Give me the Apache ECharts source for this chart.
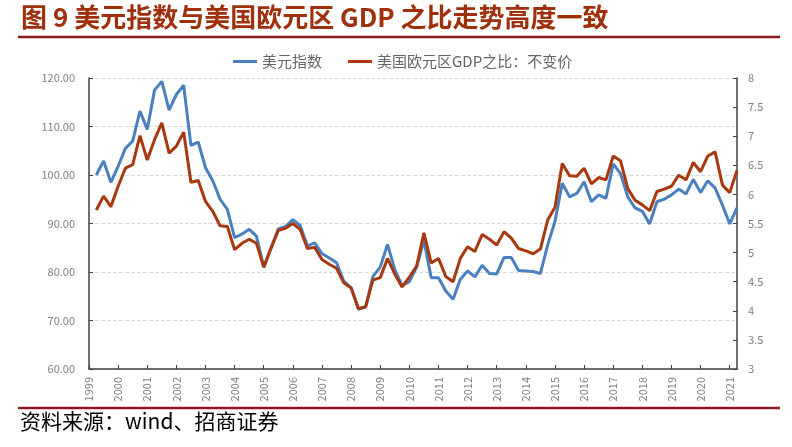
<!DOCTYPE html>
<html><head><meta charset="utf-8">
<script src="https://cdn.jsdelivr.net/npm/echarts@6/dist/echarts.min.js"></script>
<style>html,body{margin:0;padding:0;background:#fff}#c{width:792px;height:447px}</style>
</head><body><div id="c"></div>
<script>
const yearLabels = ['1999','2000','2001','2002','2003','2004','2005','2006','2007','2008','2009','2010','2011','2012','2013','2014','2015','2016','2017','2018','2019','2020','2021'];
// quarterly categories 1999Q1 .. 2021Q1
const quarters = [];
yearLabels.forEach(y => { for (let q = 1; q <= 4; q++) { if (y === '2021' && q > 1) break; quarters.push(y + 'Q' + q); } });

const usdIndex = [
  100.0,102.9,98.5,101.8, 105.5,107.0,113.2,109.4, 117.5,119.3,113.4,116.6, 118.5,106.1,106.8,101.5,
  98.8,95.0,92.9,87.1, 87.8,88.8,87.4,81.0, 85.0,88.9,89.4,90.8, 89.6,85.4,86.0,83.8,
  82.9,81.9,78.1,76.8, 72.3,72.8,79.1,81.0, 85.7,80.5,77.2,78.0, 81.0,86.5,78.8,78.8,
  76.1,74.4,78.5,80.2, 79.0,81.4,79.7,79.6, 83.0,83.0,80.3,80.2, 80.1,79.7,85.6,90.4,
  98.3,95.5,96.2,98.6, 94.5,95.9,95.2,102.3, 100.3,95.5,93.2,92.5, 89.9,94.5,95.0,95.9,
  97.1,96.1,99.1,96.4, 98.8,97.3,93.8,89.9, 93.2
];
const gdpRatio = [
  5.73,5.97,5.79,6.14, 6.45,6.51,7.01,6.59, 6.94,7.23,6.71,6.83, 7.07,6.21,6.24,5.88,
  5.71,5.46,5.45,5.05, 5.16,5.23,5.16,4.75, 5.07,5.38,5.42,5.50, 5.40,5.07,5.09,4.88,
  4.80,4.73,4.48,4.39, 4.04,4.07,4.53,4.57, 4.90,4.63,4.41,4.58, 4.77,5.34,4.82,4.90,
  4.59,4.50,4.90,5.10, 5.02,5.31,5.23,5.13, 5.36,5.25,5.07,5.03, 4.98,5.06,5.56,5.78,
  6.53,6.32,6.31,6.45, 6.18,6.29,6.25,6.66, 6.58,6.10,5.90,5.82, 5.72,6.05,6.09,6.14,
  6.33,6.25,6.55,6.39, 6.66,6.73,6.16,6.03, 6.41
];
const seriesNames = ['美元指数', '美国欧元区GDP之比：不变价'];
const titleText = '图 9 美元指数与美国欧元区 GDP 之比走势高度一致';
const sourceText = '资料来源：wind、招商证券';

function qx(label) { const y = parseInt(label.slice(0, 4)); const q = parseInt(label.slice(5)); return y + q / 4; }

const FONT = '"Noto Sans CJK SC", "Noto Sans", sans-serif';
const chart = echarts.init(document.getElementById('c'), null, { renderer: 'canvas' });
chart.setOption({
  backgroundColor: '#fff',
  animation: false,
  textStyle: { fontFamily: FONT },
  grid: { left: 89, right: 55, top: 78, bottom: 78 },
  legend: {
    top: 49, left: 228, icon: 'rect', itemWidth: 24, itemHeight: 3, itemGap: 26,
    textStyle: { fontSize: 15, color: '#666666', fontFamily: FONT },
    data: seriesNames
  },
  xAxis: {
    type: 'value', min: 1999, max: 2021.25, interval: 1,
    axisLine: { show: true, lineStyle: { color: '#404040', width: 1.5 } },
    axisTick: { show: true, inside: true, length: 4, lineStyle: { color: '#404040' } },
    axisLabel: {
      rotate: 90, color: '#7f7f7f', fontSize: 11, margin: 8, showMaxLabel: false,
      formatter: v => (Number.isInteger(v) ? yearLabels[v - 1999] || '' : '')
    },
    splitLine: { show: false }
  },
  yAxis: [
    {
      type: 'value', min: 60, max: 120, interval: 10, position: 'left',
      axisLine: { show: true, lineStyle: { color: '#404040', width: 1.5 } },
      axisTick: { show: true, inside: true, length: 4, lineStyle: { color: '#404040' } },
      axisLabel: { color: '#7f7f7f', fontSize: 11, margin: 14, formatter: v => v.toFixed(2) },
      splitLine: { show: true, lineStyle: { color: '#d9d9d9', type: 'dashed', width: 1 } }
    },
    {
      type: 'value', min: 3, max: 8, interval: 0.5, position: 'right',
      axisLine: { show: true, lineStyle: { color: '#404040', width: 1.5 } },
      axisTick: { show: true, inside: true, length: 4, lineStyle: { color: '#404040' } },
      axisLabel: { color: '#7f7f7f', fontSize: 11, margin: 11 },
      splitLine: { show: false }
    }
  ],
  series: [
    {
      name: seriesNames[0], type: 'line', yAxisIndex: 0, showSymbol: false, symbol: 'none',
      lineStyle: { color: '#4b80c0', width: 3 }, itemStyle: { color: '#4b80c0' },
      data: quarters.map((q, i) => [qx(q), usdIndex[i]])
    },
    {
      name: seriesNames[1], type: 'line', yAxisIndex: 1, showSymbol: false, symbol: 'none',
      lineStyle: { color: '#a8380e', width: 3 }, itemStyle: { color: '#a8380e' },
      data: quarters.map((q, i) => [qx(q), gdpRatio[i]])
    }
  ],
  graphic: [
    { type: 'text', left: 21, top: 4, style: { text: titleText, font: 'bold 26px ' + FONT, fill: '#a0300c' } },
    { type: 'line', shape: { x1: 18, y1: 37, x2: 780, y2: 37 }, style: { stroke: '#8b1a1a', lineWidth: 2.5 } },
    { type: 'line', shape: { x1: 18, y1: 408, x2: 780, y2: 408 }, style: { stroke: '#8b1a1a', lineWidth: 2.5 } },
    { type: 'text', left: 20, top: 411, style: { text: sourceText, font: '21px ' + FONT, fill: '#000' } }
  ]
});
</script></body></html>
